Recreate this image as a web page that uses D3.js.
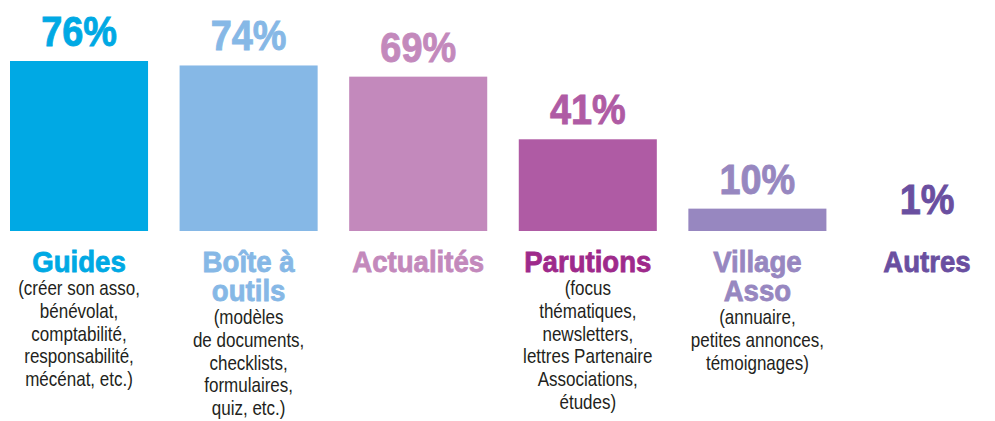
<!DOCTYPE html>
<html>
<head>
<meta charset="utf-8">
<script src="https://cdn.jsdelivr.net/npm/d3@7"></script>
<style>
  body { margin: 0; background: #fff; }
  svg { display: block; }
  text { font-family: "Liberation Sans", Arial, sans-serif; }
</style>
</head>
<body>
<div class="graph"></div>
<script>
// data
const categories = ["Guides", "Boîte à outils", "Actualités", "Parutions", "Village Asso", "Autres"]
const values = [76, 74, 69, 41, 10, 1]
const titleLines = [["Guides"], ["Boîte à", "outils"], ["Actualités"], ["Parutions"], ["Village", "Asso"], ["Autres"]]
const descLines = [
  ["(créer son asso,", "bénévolat,", "comptabilité,", "responsabilité,", "mécénat, etc.)"],
  ["(modèles", "de documents,", "checklists,", "formulaires,", "quiz, etc.)"],
  [],
  ["(focus", "thématiques,", "newsletters,", "lettres Partenaire", "Associations,", "études)"],
  ["(annuaire,", "petites annonces,", "témoignages)"],
  []
]
// palette
const barColors = ["#00a9e4", "#86b8e6", "#c389bc", "#af5ba4", "#9787c0", "#6a4fa0"]
const titleColors = ["#00a9e4", "#86b8e6", "#c389bc", "#9e2a8b", "#9787c0", "#6a4fa0"]

const W = 995, H = 421
const baseY = 231

let svg = d3.select('.graph')
    .append('svg')
    .attr("width", W)
    .attr("height", H)

let x = d3.scaleBand()
    .domain(categories)
    .range([10, 996])
    .paddingInner(0.186)
    .paddingOuter(0)

let y = d3.scaleLinear()
    .domain([0, 76])
    .range([baseY, 61])

// helper: condensed text by squeezing horizontally
function condText(g, cx, cy, sx, str) {
  return g.append('text')
    .attr('transform', 'translate(' + cx + ',' + cy + ') scale(' + sx + ',1)')
    .attr('text-anchor', 'middle')
    .text(str)
}

// bars (the 1% one is too thin to show in the original)
svg.selectAll('rect.bar')
    .data(values)
    .enter()
    .filter(d => d >= 5)
    .append('rect')
    .attr('class', 'bar')
    .attr('x', d => x(categories[values.indexOf(d)]))
    .attr('width', x.bandwidth())
    .attr('y', d => y(d))
    .attr('height', d => baseY - y(d))
    .attr('fill', d => barColors[values.indexOf(d)])

// value labels
values.forEach(function (v, i) {
  condText(svg, x(categories[i]) + x.bandwidth() / 2, y(v) - 15, 0.88, v + '%')
    .attr('font-size', 43)
    .attr('font-weight', 'bold')
    .attr('fill', barColors[i])
    .attr('stroke', barColors[i])
    .attr('stroke-width', 0.9)
})

// category titles + descriptions
categories.forEach(function (c, i) {
  let cx = x(c) + x.bandwidth() / 2
  let g = svg.append('g')
  titleLines[i].forEach(function (t, j) {
    condText(g, cx, 272 + j * 29, 0.92, t)
      .attr('font-size', 30)
      .attr('font-weight', 'bold')
      .attr('fill', titleColors[i])
      .attr('stroke', titleColors[i])
      .attr('stroke-width', 0.8)
  })
  let startY = 272 + (titleLines[i].length - 1) * 29 + 23
  descLines[i].forEach(function (t, j) {
    condText(g, cx, startY + j * 22.8, 0.85, t)
      .attr('font-size', 20)
      .attr('fill', '#231f20')
  })
})
</script>
</body>
</html>
